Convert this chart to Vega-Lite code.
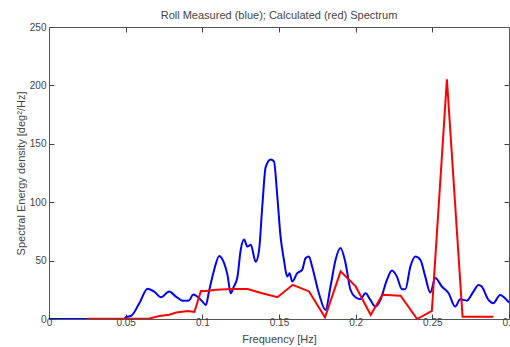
{
  "$schema": "https://vega.github.io/schema/vega-lite/v6.json",
  "width": 460,
  "height": 292,
  "autosize": "none",
  "padding": {"left": 49, "top": 27, "right": 1, "bottom": 28},
  "background": "white",
  "config": {
    "view": {"stroke": "#555", "strokeWidth": 1},
    "font": "Liberation Sans",
    "axis": {"grid": false, "domain": false, "labelFont": "Liberation Sans", "titleFont": "Liberation Sans", "labelFontSize": 10, "titleFontSize": 11, "titleFontWeight": "normal", "labelColor": "#444", "titleColor": "#444", "tickColor": "#444", "tickSize": 5, "tickWidth": 1, "offset": -5}
  },
  "title": {"text": "Roll Measured (blue); Calculated (red) Spectrum", "fontSize": 11, "fontWeight": "normal", "color": "#444", "font": "Liberation Sans", "offset": 1},
  "datasets": {
    "measured": [
      {"f": 0, "v": 0}, {"f": 0.049, "v": 0}, {"f": 0.0502, "v": 1.5}, {"f": 0.0535, "v": 2.6}, {"f": 0.0589, "v": 13.5}, {"f": 0.0643, "v": 26}, {"f": 0.0686, "v": 23.5}, {"f": 0.073, "v": 18.6}, {"f": 0.0784, "v": 23.5}, {"f": 0.0828, "v": 19.2}, {"f": 0.0871, "v": 15.7}, {"f": 0.0914, "v": 15.9}, {"f": 0.094, "v": 21}, {"f": 0.0968, "v": 19.2}, {"f": 0.1001, "v": 14.9}, {"f": 0.1023, "v": 12}, {"f": 0.1044, "v": 24}, {"f": 0.1077, "v": 42}, {"f": 0.111, "v": 54}, {"f": 0.1142, "v": 47.8}, {"f": 0.1164, "v": 37.8}, {"f": 0.1185, "v": 22}, {"f": 0.1203, "v": 27}, {"f": 0.1229, "v": 36}, {"f": 0.125, "v": 59}, {"f": 0.1272, "v": 68}, {"f": 0.1294, "v": 62}, {"f": 0.1316, "v": 63.6}, {"f": 0.1348, "v": 49}, {"f": 0.137, "v": 59}, {"f": 0.1391, "v": 96.5}, {"f": 0.1413, "v": 130}, {"f": 0.1446, "v": 136.6}, {"f": 0.1467, "v": 135}, {"f": 0.1489, "v": 105}, {"f": 0.151, "v": 70.7}, {"f": 0.1532, "v": 50.7}, {"f": 0.1554, "v": 36.3}, {"f": 0.1569, "v": 39.2}, {"f": 0.1586, "v": 32}, {"f": 0.1619, "v": 39.2}, {"f": 0.1651, "v": 42}, {"f": 0.1673, "v": 52}, {"f": 0.1695, "v": 53.5}, {"f": 0.1716, "v": 45}, {"f": 0.176, "v": 22}, {"f": 0.1803, "v": 7.7}, {"f": 0.1836, "v": 27.8}, {"f": 0.1869, "v": 50.7}, {"f": 0.1901, "v": 60.7}, {"f": 0.1934, "v": 47.8}, {"f": 0.1966, "v": 25}, {"f": 0.1999, "v": 18.6}, {"f": 0.2031, "v": 17}, {"f": 0.2064, "v": 22}, {"f": 0.2096, "v": 16.3}, {"f": 0.2129, "v": 10.6}, {"f": 0.2161, "v": 16.3}, {"f": 0.2204, "v": 33.5}, {"f": 0.2237, "v": 41.5}, {"f": 0.2269, "v": 36.3}, {"f": 0.2302, "v": 25.5}, {"f": 0.2324, "v": 25.5}, {"f": 0.2357, "v": 45}, {"f": 0.2389, "v": 53.5}, {"f": 0.2422, "v": 50.7}, {"f": 0.2454, "v": 36.3}, {"f": 0.2487, "v": 22.6}, {"f": 0.2519, "v": 35}, {"f": 0.2562, "v": 27.8}, {"f": 0.2606, "v": 22}, {"f": 0.2649, "v": 10.6}, {"f": 0.2682, "v": 17}, {"f": 0.2725, "v": 15.7}, {"f": 0.2768, "v": 23.5}, {"f": 0.2801, "v": 29.2}, {"f": 0.2822, "v": 27.8}, {"f": 0.2866, "v": 16.3}, {"f": 0.2898, "v": 13.5}, {"f": 0.2942, "v": 20.6}, {"f": 0.2985, "v": 16.3}, {"f": 0.3, "v": 14}
    ],
    "calculated": [
      {"f": 0.025, "v": 0.3}, {"f": 0.065, "v": 0.3}, {"f": 0.072, "v": 2.6}, {"f": 0.0785, "v": 3.7}, {"f": 0.083, "v": 5.5}, {"f": 0.0905, "v": 6.9}, {"f": 0.0948, "v": 6}, {"f": 0.0991, "v": 24}, {"f": 0.1024, "v": 24}, {"f": 0.109, "v": 25}, {"f": 0.1197, "v": 25.6}, {"f": 0.1295, "v": 25.6}, {"f": 0.139, "v": 22}, {"f": 0.149, "v": 18.7}, {"f": 0.159, "v": 29.3}, {"f": 0.1696, "v": 23.6}, {"f": 0.18, "v": 1.4}, {"f": 0.1902, "v": 40.8}, {"f": 0.2, "v": 27.9}, {"f": 0.2098, "v": 3.4}, {"f": 0.2174, "v": 20.7}, {"f": 0.2293, "v": 20}, {"f": 0.2401, "v": 0}, {"f": 0.2497, "v": 7}, {"f": 0.2595, "v": 205.3}, {"f": 0.2697, "v": 2}, {"f": 0.2898, "v": 2}
    ]
  },
  "layer": [
    {
      "data": {"name": "measured"},
      "mark": {"type": "line", "color": "#0000ff", "strokeWidth": 2, "interpolate": "monotone", "clip": true},
      "encoding": {
        "x": {"field": "f", "type": "quantitative", "scale": {"domain": [0, 0.3], "nice": false}, "axis": {"title": "Frequency [Hz]", "values": [0, 0.05, 0.1, 0.15, 0.2, 0.25, 0.3], "format": "~g", "labelPadding": -2, "titlePadding": 6, "labelFlush": false}},
        "y": {"field": "v", "type": "quantitative", "scale": {"domain": [0, 250], "nice": false}, "axis": {"title": "Spectral Energy density [deg²/Hz]", "values": [0, 50, 100, 150, 200, 250], "labelPadding": 3, "titlePadding": 3}}
      }
    },
    {
      "data": {"name": "calculated"},
      "mark": {"type": "line", "color": "#ff0000", "strokeWidth": 2, "clip": true},
      "encoding": {
        "x": {"field": "f", "type": "quantitative", "axis": {"orient": "top", "title": null, "labels": false, "values": [0.05, 0.1, 0.15, 0.2, 0.25]}},
        "y": {"field": "v", "type": "quantitative", "axis": {"orient": "right", "title": null, "labels": false, "values": [50, 100, 150, 200]}}
      }
    }
  ],
  "resolve": {"axis": {"x": "independent", "y": "independent"}}
}
